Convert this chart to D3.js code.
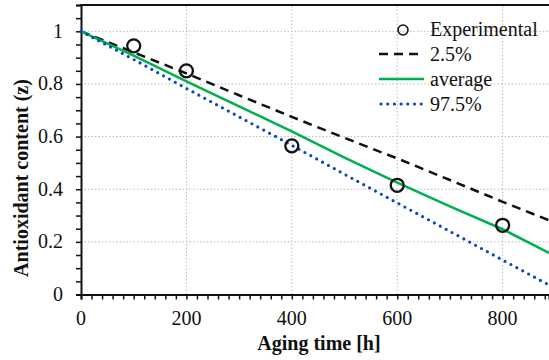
<!DOCTYPE html>
<html>
<head>
<meta charset="utf-8">
<script src="https://cdnjs.cloudflare.com/ajax/libs/d3/7.8.5/d3.min.js"></script>
<style>
	body { margin: 0; background: #fff; }
</style>
</head>
<body>
<div id="chart"></div>
<script>

///////////////////////////////////////////////////////////////////////////
///////////////////////////////// Data ////////////////////////////////////
///////////////////////////////////////////////////////////////////////////

//Aging time [h] where the model curves were read
var timeH = [0, 100, 200, 300, 400, 500, 600, 700, 800, 888];
//Antioxidant content for each curve
var lower = [1, 0.92, 0.84, 0.757, 0.675, 0.595, 0.517, 0.435, 0.352, 0.282];    //2.5%
var average = [1, 0.908, 0.81, 0.715, 0.62, 0.52, 0.425, 0.335, 0.248, 0.158];
var upper = [1, 0.893, 0.783, 0.675, 0.567, 0.457, 0.348, 0.24, 0.131, 0.036];  //97.5%

//Experimental points
var expTime = [100, 200, 400, 600, 800];
var expValue = [0.945, 0.85, 0.565, 0.415, 0.263];

var xTicks = [0, 200, 400, 600, 800];
var yTicks = [0, 0.2, 0.4, 0.6, 0.8, 1];
var legendLabels = ["Experimental", "2.5%", "average", "97.5%"];

var serif = "'Liberation Serif', 'Times New Roman', Times, 'DejaVu Serif', serif";

///////////////////////////////////////////////////////////////////////////
//////////////////// Set up and initiate svg containers ///////////////////
///////////////////////////////////////////////////////////////////////////

var width = 549,
	height = 360;

var svg = d3.select("#chart")
	.append("svg")
	.attr("width", width)
	.attr("height", height)
	.style("display", "block");

var x = d3.scaleLinear().domain([0, 888]).range([81, 549]);
var y = d3.scaleLinear().domain([0, 1.1]).range([294.5, 5]);

///////////////////////////////////////////////////////////////////////////
///////////////////////////////// Grid ////////////////////////////////////
///////////////////////////////////////////////////////////////////////////

svg.append("g").selectAll("line")
	.data(xTicks.slice(1))
	.enter().append("line")
	.attr("x1", function(d) { return x(d); })
	.attr("x2", function(d) { return x(d); })
	.attr("y1", y(0))
	.attr("y2", y(1.1))
	.style("stroke", "#bbb")
	.style("stroke-width", 1)
	.style("stroke-dasharray", "1.5 2");

svg.append("g").selectAll("line")
	.data(yTicks.slice(1))
	.enter().append("line")
	.attr("x1", x(0))
	.attr("x2", x(888))
	.attr("y1", function(d) { return y(d); })
	.attr("y2", function(d) { return y(d); })
	.style("stroke", "#bbb")
	.style("stroke-width", 1)
	.style("stroke-dasharray", "1.5 2");

///////////////////////////////////////////////////////////////////////////
///////////////////////////////// Axes ////////////////////////////////////
///////////////////////////////////////////////////////////////////////////

var xAxis = svg.append("g")
	.attr("transform", "translate(0," + y(0) + ")")
	.call(d3.axisBottom(x).tickValues(d3.range(0, 881, 20)).tickSize(5).tickFormat(""));
var yAxis = svg.append("g")
	.attr("transform", "translate(" + x(0) + ",0)")
	.call(d3.axisLeft(y).tickValues(d3.range(0, 1.101, 0.05)).tickSize(5).tickFormat(""));

[xAxis, yAxis].forEach(function(a) {
	a.select(".domain").style("stroke", "#111").style("stroke-width", 2);
	a.selectAll(".tick line").style("stroke", "#111").style("stroke-width", 1.5);
});

//Frame on top
svg.append("line")
	.attr("x1", x(0) - 1)
	.attr("x2", width)
	.attr("y1", y(1.1))
	.attr("y2", y(1.1))
	.style("stroke", "#111")
	.style("stroke-width", 2);

//Tick labels
svg.append("g").selectAll("text")
	.data(xTicks)
	.enter().append("text")
	.attr("x", function(d) { return x(d); })
	.attr("y", 325)
	.style("font-family", serif)
	.style("font-size", "20px")
	.style("fill", "#111")
	.style("text-anchor", "middle")
	.text(function(d) { return d; });

svg.append("g").selectAll("text")
	.data(yTicks)
	.enter().append("text")
	.attr("x", 63)
	.attr("y", function(d) { return y(d) + 6.5; })
	.style("font-family", serif)
	.style("font-size", "20px")
	.style("fill", "#111")
	.style("text-anchor", "end")
	.text(function(d) { return d; });

//Axis titles
svg.append("text")
	.attr("x", 319)
	.attr("y", 350)
	.style("font-family", serif)
	.style("font-size", "20px")
	.style("font-weight", "bold")
	.style("fill", "#111")
	.style("text-anchor", "middle")
	.text("Aging time [h]");

svg.append("text")
	.attr("transform", "translate(28,178) rotate(-90)")
	.style("font-family", serif)
	.style("font-size", "20px")
	.style("font-weight", "bold")
	.style("fill", "#111")
	.style("text-anchor", "middle")
	.text("Antioxidant content (z)");

///////////////////////////////////////////////////////////////////////////
///////////////////////////////// Curves //////////////////////////////////
///////////////////////////////////////////////////////////////////////////

var line = d3.line()
	.x(function(d) { return x(d[0]); })
	.y(function(d) { return y(d[1]); });

var curves = [
	{ values: lower, color: "#111", dash: "9 6", cap: "butt", w: 2.5 },
	{ values: average, color: "#00b050", dash: null, cap: "butt", w: 2.5 },
	{ values: upper, color: "#0a46c2", dash: "0 6.7", cap: "round", w: 3.2 }
];

curves.forEach(function(c) {
	svg.append("path")
		.datum(d3.zip(timeH, c.values))
		.attr("d", line)
		.style("fill", "none")
		.style("stroke", c.color)
		.style("stroke-width", c.w)
		.style("stroke-linecap", c.cap)
		.style("stroke-dasharray", c.dash);
});

//Experimental circles
svg.append("g").selectAll("circle")
	.data(d3.zip(expTime, expValue))
	.enter().append("circle")
	.attr("cx", function(d) { return x(d[0]); })
	.attr("cy", function(d) { return y(d[1]); })
	.attr("r", 6.5)
	.style("fill", "none")
	.style("stroke", "#111")
	.style("stroke-width", 2.3);

///////////////////////////////////////////////////////////////////////////
///////////////////////////////// Legend //////////////////////////////////
///////////////////////////////////////////////////////////////////////////

var legend = svg.append("g").attr("class", "legend");

legend.selectAll("text")
	.data(legendLabels)
	.enter().append("text")
	.attr("x", 430)
	.attr("y", function(d, i) { return 36 + i * 25; })
	.style("font-family", serif)
	.style("font-size", "20px")
	.style("fill", "#111")
	.text(function(d) { return d; });

legend.append("circle")
	.attr("cx", 403)
	.attr("cy", 30)
	.attr("r", 5)
	.style("fill", "none")
	.style("stroke", "#111")
	.style("stroke-width", 1.6);

curves.forEach(function(c, i) {
	legend.append("line")
		.attr("x1", c.cap === "round" ? 381 : 379)
		.attr("x2", 424)
		.attr("y1", 54 + i * 25)
		.attr("y2", 54 + i * 25)
		.style("stroke", c.color)
		.style("stroke-width", c.w)
		.style("stroke-linecap", c.cap)
		.style("stroke-dasharray", c.dash);
});

</script>
</body>
</html>
